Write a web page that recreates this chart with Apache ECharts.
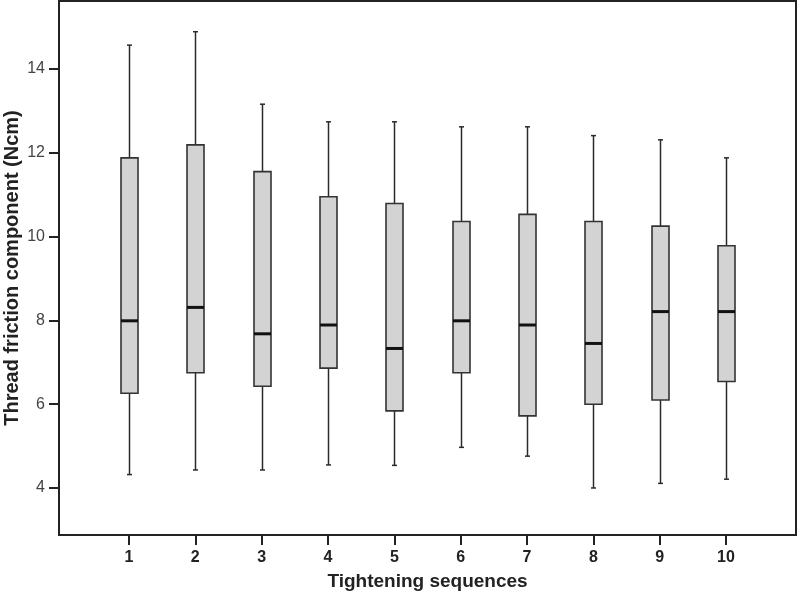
<!DOCTYPE html>
<html>
<head>
<meta charset="utf-8">
<script src="https://cdn.jsdelivr.net/npm/echarts@6/dist/echarts.min.js"></script>
<style>
html,body{margin:0;padding:0;background:#fff;}
#chart{width:797px;height:596px;}
</style>
</head>
<body>
<div id="chart"></div>
<script>
// Data
var categories = [1, 2, 3, 4, 5, 6, 7, 8, 9, 10];
var mins    = [4.32, 4.43, 4.43, 4.55, 4.54, 4.97, 4.76, 4.00, 4.11, 4.21];
var q1s     = [6.26, 6.75, 6.43, 6.86, 5.84, 6.75, 5.72, 6.00, 6.10, 6.54];
var medians = [7.99, 8.31, 7.68, 7.89, 7.33, 7.99, 7.89, 7.45, 8.21, 8.21];
var q3s     = [11.88, 12.19, 11.55, 10.95, 10.79, 10.36, 10.53, 10.36, 10.25, 9.78];
var maxs    = [14.57, 14.89, 13.16, 12.74, 12.74, 12.62, 12.62, 12.41, 12.31, 11.88];
var yTicks  = [4, 6, 8, 10, 12, 14];

var FONT = 'Liberation Sans, Arial, sans-serif';

var data = categories.map(function (c, i) {
  return [c, mins[i], q1s[i], medians[i], q3s[i], maxs[i]];
});

function renderItem(params, api) {
  var x = api.value(0);
  var pMin = api.coord([x, api.value(1)]);
  var pQ1 = api.coord([x, api.value(2)]);
  var pMed = api.coord([x, api.value(3)]);
  var pQ3 = api.coord([x, api.value(4)]);
  var pMax = api.coord([x, api.value(5)]);
  var cx = Math.round(pMin[0]) + 0.5;
  var halfW = 8.5;
  var capW = 2.5;
  var stroke = '#2a2a2a';
  return {
    type: 'group',
    children: [
      { type: 'line', shape: { x1: cx, y1: pMax[1], x2: cx, y2: pQ3[1] }, style: { stroke: stroke, lineWidth: 1.5 } },
      { type: 'line', shape: { x1: cx, y1: pQ1[1], x2: cx, y2: pMin[1] }, style: { stroke: stroke, lineWidth: 1.5 } },
      { type: 'line', shape: { x1: cx - capW, y1: pMax[1], x2: cx + capW, y2: pMax[1] }, style: { stroke: stroke, lineWidth: 1.5 } },
      { type: 'line', shape: { x1: cx - capW, y1: pMin[1], x2: cx + capW, y2: pMin[1] }, style: { stroke: stroke, lineWidth: 1.5 } },
      { type: 'rect', shape: { x: cx - halfW, y: pQ3[1], width: halfW * 2, height: pQ1[1] - pQ3[1] }, style: { fill: '#d3d3d3', stroke: '#333', lineWidth: 1.6 } },
      { type: 'line', shape: { x1: cx - halfW, y1: pMed[1], x2: cx + halfW, y2: pMed[1] }, style: { stroke: '#111', lineWidth: 3 } }
    ]
  };
}

var chart = echarts.init(document.getElementById('chart'), null, { renderer: 'canvas' });
chart.setOption({
  animation: false,
  backgroundColor: '#fff',
  grid: {
    left: 59, right: 1, top: 1, bottom: 61,
    outerBoundsMode: 'none',
    containLabel: false,
    show: true, borderColor: '#222', borderWidth: 2, backgroundColor: 'transparent'
  },
  xAxis: {
    type: 'value',
    min: -0.055, max: 11.055,
    name: 'Tightening sequences',
    nameLocation: 'middle',
    nameGap: 37,
    nameMoveOverlap: false,
    nameTextStyle: { fontFamily: FONT, fontWeight: 'bold', fontSize: 19, color: '#222' },
    splitLine: { show: false },
    axisLine: { show: true, onZero: false, lineStyle: { color: '#222', width: 2 } },
    axisTick: { show: true, inside: false, length: 10, customValues: categories, lineStyle: { color: '#222', width: 2 } },
    axisLabel: { customValues: categories, margin: 15, fontFamily: FONT, fontWeight: 'bold', fontSize: 16, color: '#222' }
  },
  yAxis: {
    type: 'value',
    min: 2.878, max: 15.623,
    name: 'Thread friction component (Ncm)',
    nameLocation: 'middle',
    nameRotate: 90,
    nameGap: 37,
    nameMoveOverlap: false,
    nameTextStyle: { fontFamily: FONT, fontWeight: 'bold', fontSize: 20, color: '#222' },
    splitLine: { show: false },
    axisLine: { show: true, onZero: false, lineStyle: { color: '#222', width: 2 } },
    axisTick: { show: true, inside: false, length: 10, customValues: yTicks, lineStyle: { color: '#222', width: 2 } },
    axisLabel: { customValues: yTicks, margin: 14, fontFamily: FONT, fontSize: 16, color: '#444' }
  },
  series: [{
    type: 'custom',
    renderItem: renderItem,
    encode: { x: 0, y: [1, 2, 3, 4, 5] },
    data: data,
    clip: false
  }]
});
</script>
</body>
</html>
